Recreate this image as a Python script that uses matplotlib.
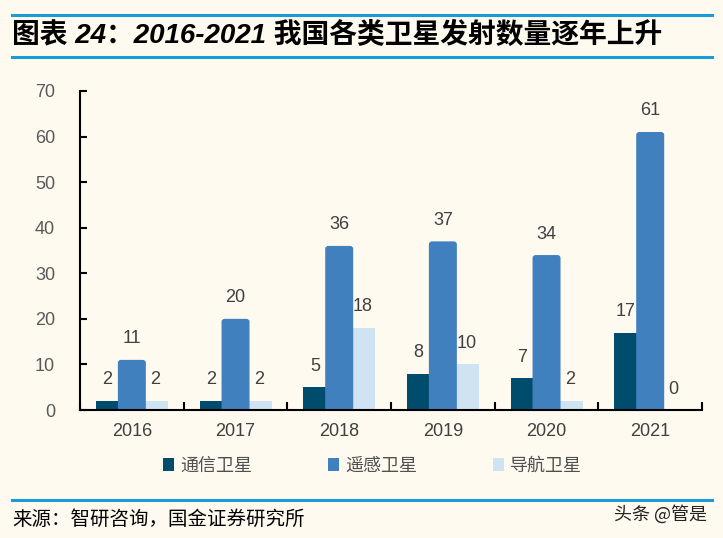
import numpy as np
import matplotlib.pyplot as plt
from matplotlib.lines import Line2D
from matplotlib.patches import FancyBboxPatch, BoxStyle, Patch

plt.rcParams['font.family'] = ['Liberation Sans', 'Noto Sans CJK SC', 'DejaVu Sans']

years = ['2016', '2017', '2018', '2019', '2020', '2021']
comm = [2, 2, 5, 8, 7, 17]        # 通信卫星
remote = [11, 20, 36, 37, 34, 61]  # 遥感卫星
nav = [2, 2, 18, 10, 2, 0]         # 导航卫星
series_names = ['通信卫星', '遥感卫星', '导航卫星']

bg = '#FEFAF0'
c_comm = '#004C6D'
c_remote = '#4180BF'
c_nav = '#D0E3F3'
line_blue = '#1A9BD7'

fig = plt.figure(figsize=(7.23, 5.38), dpi=100, facecolor=bg)
ax = fig.add_axes([0.1107, 0.2379, 0.8603, 0.593], facecolor=bg)

x = np.arange(len(years))
b1 = ax.bar(x - 0.235, comm, 0.22, color=c_comm, zorder=2)
b2 = ax.bar(x, remote, 0.27, color=c_remote, zorder=3)
b3 = ax.bar(x + 0.225, nav, 0.25, color=c_nav, zorder=2)

# rounded tops for the middle series
for p in b2.patches:
    p.set_visible(False)
    r = FancyBboxPatch((p.get_x(), -2), p.get_width(), p.get_height() + 2,
                       boxstyle=BoxStyle.Round(pad=0, rounding_size=0.03),
                       mutation_aspect=22, facecolor=c_remote, edgecolor='none',
                       zorder=3, clip_on=True)
    ax.add_patch(r)

for b in (b1, b2, b3):
    ax.bar_label(b, padding=9, fontsize=13, color='#404040')

ax.set_xlim(-0.5, len(years) - 0.5)
ax.set_ylim(0, 70)
ax.set_yticks(range(0, 71, 10))
ax.set_xticks(x)
ax.set_xticklabels(years)
ax.set_xticks(np.arange(-0.5, len(years)), minor=True)
ax.tick_params(axis='x', which='major', length=0, pad=9, labelsize=13, labelcolor='#404040')
ax.tick_params(axis='x', which='minor', direction='in', length=6, width=1.5)
ax.tick_params(axis='y', direction='in', length=5, width=1.5, pad=18, labelsize=13, labelcolor='#595959')
for s in ('top', 'right'):
    ax.spines[s].set_visible(False)
for s in ('left', 'bottom'):
    ax.spines[s].set_linewidth(1.5)
    ax.spines[s].set_zorder(5)

handles = [Patch(facecolor=c, edgecolor='none') for c in (c_comm, c_remote, c_nav)]
leg = fig.legend(handles, series_names, loc='center', bbox_to_anchor=(0.515, 1 - 466 / 538),
                 ncol=3, frameon=False,
                 handlelength=0.6, handleheight=0.7, handletextpad=0.35, columnspacing=4.2,
                 prop={'family': ['Noto Sans CJK SC'], 'size': 13})
for t in leg.get_texts():
    t.set_color('#505050')

# header / footer lines
fig.add_artist(Line2D([0.017, 0.985], [1 - 14.5 / 538] * 2, color=line_blue, lw=2.2))
fig.add_artist(Line2D([0.017, 0.985], [1 - 56.5 / 538] * 2, color=line_blue, lw=2.2))
fig.add_artist(Line2D([0.017, 0.985], [1 - 500 / 538] * 2, color=line_blue, lw=2.2))

fig.text(0.017, 1 - 35 / 538, '图表 24：2016-2021 我国各类卫星发射数量逐年上升', fontsize=20,
         fontweight='bold', style='italic', va='center', ha='left', color='black')
fig.text(0.017, 1 - 519 / 538, '来源：智研咨询，国金证券研究所', fontsize=14,
         family=['Noto Sans CJK SC'], va='center', ha='left', color='black')
fig.text(0.978, 1 - 514 / 538, '头条 @管是', fontsize=13, family=['Noto Sans CJK SC'],
         va='center', ha='right', color='#222222')

fig.savefig('out.png', dpi=100, facecolor=bg)
